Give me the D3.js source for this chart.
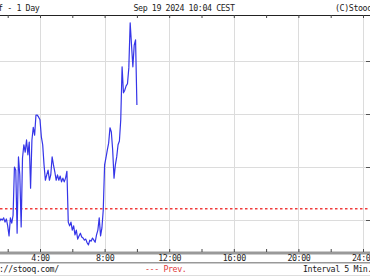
<!DOCTYPE html>
<html>
<head>
<meta charset="utf-8">
<script src="https://cdn.jsdelivr.net/npm/d3@7"></script>
<style>
  body { margin: 0; background: #fff; }
  svg { display: block; }
  text { font-family: "DejaVu Sans Mono", monospace; font-size: 8.3px; letter-spacing: -0.4px; }
</style>
</head>
<body>
<svg id="chart" width="370" height="278"></svg>
<script>
const times = [
  "1:25","1:30","1:35","1:40","1:45","1:50","1:55","2:00","2:05","2:10","2:15","2:20",
  "2:25","2:30","2:35","2:40","2:45","2:50","2:55","3:00","3:05","3:10","3:15","3:20",
  "3:25","3:30","3:35","3:40","3:45","3:50","3:55","4:00","4:05","4:10","4:15","4:20",
  "4:25","4:30","4:35","4:40","4:45","4:50","4:55","5:00","5:05","5:10","5:15","5:20",
  "5:25","5:30","5:35","5:40","5:45","5:50","5:55","6:00","6:05","6:10","6:15","6:20",
  "6:25","6:30","6:35","6:40","6:45","6:50","6:55","7:00","7:05","7:10","7:15","7:20",
  "7:25","7:30","7:35","7:40","7:45","7:50","7:55","8:00","8:05","8:10","8:15","8:20",
  "8:25","8:30","8:35","8:40","8:45","8:50","8:55","9:00","9:05","9:10","9:15","9:20",
  "9:25","9:30","9:35","9:40","9:45","9:50","9:55","10:00"
];
const prices = [
  0.94098,0.94098,0.94102,0.94100,0.94104,0.94096,0.94102,0.94089,0.94070,0.94104,0.94094,0.94109,
  0.94200,0.94194,0.94075,0.94219,0.94185,0.94087,0.94217,0.94242,0.94228,0.94251,0.94223,0.94247,
  0.94160,0.94251,0.94275,0.94260,0.94298,0.94298,0.94294,0.94289,0.94257,0.94242,0.94204,0.94175,
  0.94185,0.94194,0.94175,0.94185,0.94219,0.94204,0.94191,0.94175,0.94185,0.94175,0.94183,0.94172,
  0.94179,0.94172,0.94179,0.94192,0.94096,0.94089,0.94096,0.94081,0.94089,0.94072,0.94081,0.94064,
  0.94070,0.94075,0.94068,0.94066,0.94062,0.94064,0.94057,0.94053,0.94062,0.94060,0.94066,0.94062,
  0.94058,0.94072,0.94081,0.94104,0.94070,0.94085,0.94119,0.94204,0.94217,0.94232,0.94245,0.94274,
  0.94266,0.94232,0.94179,0.94204,0.94219,0.94242,0.94249,0.94289,0.94389,0.94340,0.94345,0.94353,
  0.94357,0.94387,0.94472,0.94430,0.94389,0.94430,0.94440,0.94317
];
const prevClose = 0.94121;
const priceTicks = [0.9410, 0.9420, 0.9430, 0.9440];
const hourLabels = [4, 8, 12, 16, 20, 24];
const hourTicks = d3.range(0, 25, 2);

const svg = d3.select("#chart");
const plotTop = 15, plotBottom = 252, plotRight = 363;

const data = times.map((t, i) => {
  const [h, m] = t.split(":").map(Number);
  return { hour: h + m / 60, price: prices[i] };
});

// 4:00 sits at x=40, 24:00 at x=363
const x = d3.scaleLinear().domain([4, 24]).range([40, plotRight]);
const y = d3.scaleLinear().domain([0.9410, 0.9440]).range([220, 61]);

// grid
svg.append("g")
  .selectAll("line")
  .data(hourLabels)
  .join("line")
  .attr("x1", (d) => Math.round(x(d)) + 0.5).attr("x2", (d) => Math.round(x(d)) + 0.5)
  .attr("y1", plotTop).attr("y2", plotBottom)
  .attr("stroke", "#dcdcdc");

svg.append("g")
  .selectAll("line")
  .data(priceTicks)
  .join("line")
  .attr("x1", 0).attr("x2", 369)
  .attr("y1", (d) => Math.round(y(d)) + 0.5).attr("y2", (d) => Math.round(y(d)) + 0.5)
  .attr("stroke", "#dcdcdc");

// right tick stubs
svg.append("g")
  .selectAll("line")
  .data(priceTicks)
  .join("line")
  .attr("x1", 366).attr("x2", 370)
  .attr("y1", (d) => Math.round(y(d)) + 0.5).attr("y2", (d) => Math.round(y(d)) + 0.5)
  .attr("stroke", "#555");

// top frame with ticks
svg.append("line")
  .attr("x1", 0).attr("x2", 370)
  .attr("y1", plotTop + 0.5).attr("y2", plotTop + 0.5)
  .attr("stroke", "#222");

svg.append("g")
  .attr("transform", `translate(0,${plotTop})`)
  .call(d3.axisBottom(x).tickValues(hourTicks).tickSize(3).tickFormat(""))
  .call((g) => g.select(".domain").remove())
  .selectAll("line").attr("stroke", "#444");

// prev close
svg.append("line")
  .attr("x1", 0).attr("x2", 370)
  .attr("y1", y(prevClose)).attr("y2", y(prevClose))
  .style("stroke", "#f03c3c")
  .style("stroke-width", 1.5)
  .style("stroke-dasharray", "2.5 2.5");

// price line
const line = d3.line()
  .x((d) => x(d.hour))
  .y((d) => y(d.price));

svg.append("path")
  .datum(data)
  .attr("fill", "none")
  .attr("stroke", "#3535e8")
  .attr("stroke-width", 1.2)
  .attr("stroke-linejoin", "round")
  .attr("d", line);

// bottom axis bar
svg.append("rect")
  .attr("x", 0).attr("y", plotBottom - 0.5)
  .attr("width", 370).attr("height", 3)
  .attr("fill", "#999");

svg.append("g")
  .attr("transform", `translate(0,${plotBottom})`)
  .call(d3.axisTop(x).tickValues(hourTicks).tickSize(3).tickFormat(""))
  .call((g) => g.select(".domain").remove())
  .selectAll("line").attr("stroke", "#444");

svg.append("g")
  .attr("transform", `translate(0,${plotBottom + 2})`)
  .call(d3.axisBottom(x).tickValues(hourLabels).tickSize(0).tickPadding(1).tickFormat((d) => d + ":00"))
  .call((g) => g.select(".domain").remove())
  .selectAll("text")
  .attr("fill", "#222")
  .style("font-family", "DejaVu Sans Mono, monospace")
  .style("font-size", "8.3px");

svg.append("rect")
  .attr("x", 0).attr("y", 262)
  .attr("width", 370).attr("height", 1.5)
  .attr("fill", "#999");

svg.append("line")
  .attr("x1", 0).attr("x2", 370)
  .attr("y1", 275.5).attr("y2", 275.5)
  .attr("stroke", "#ddd");

// header
svg.append("text").attr("x", -2).attr("y", 11).attr("fill", "#222").text("f - 1 Day");
svg.append("text").attr("x", 184).attr("y", 11).attr("text-anchor", "middle").attr("fill", "#222")
  .text("Sep 19 2024 10:04 CEST");
svg.append("text").attr("x", 335).attr("y", 11).attr("fill", "#222").text("(C)Stooq.com");

// footer
svg.append("text").attr("x", -1).attr("y", 272).attr("fill", "#222").text("://stooq.com/");
svg.append("text").attr("x", 145).attr("y", 272).attr("fill", "#e03a3a").text("--- Prev.");
svg.append("text").attr("x", 303).attr("y", 272).attr("fill", "#222").text("Interval 5 Min.");
</script>
</body>
</html>
